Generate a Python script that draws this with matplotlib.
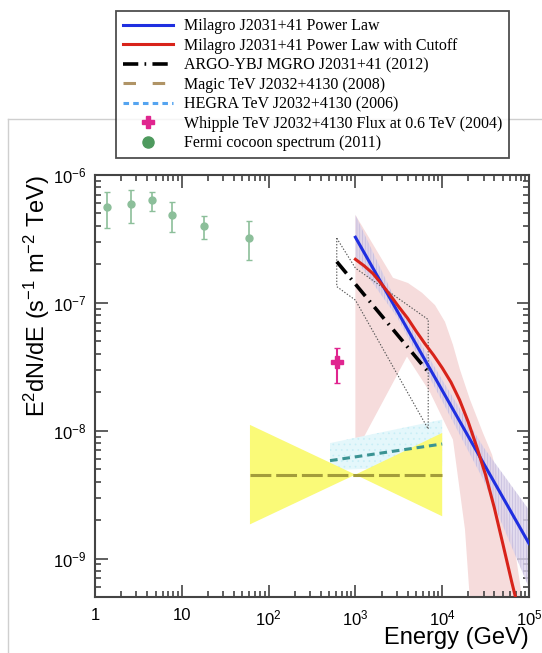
import matplotlib
matplotlib.use('Agg')
import matplotlib.pyplot as plt
from matplotlib.lines import Line2D
from matplotlib.ticker import LogLocator, NullFormatter, FixedLocator, FixedFormatter

plt.rcParams['font.family'] = 'Liberation Sans'
plt.rcParams['mathtext.fontset'] = 'custom'
plt.rcParams['mathtext.rm'] = 'Liberation Sans'
plt.rcParams['mathtext.it'] = 'Liberation Sans:italic'
plt.rcParams['lines.scale_dashes'] = False
plt.rcParams['hatch.linewidth'] = 0.5

# Fermi cocoon spectrum (GeV, E^2 dN/dE)
fermi_E = [1.37, 2.6, 4.5, 7.7, 18, 59]
fermi_f = [5.6e-7, 5.97e-7, 6.4e-7, 4.9e-7, 4.0e-7, 3.24e-7]
fermi_hi = [7.3e-7, 7.7e-7, 7.3e-7, 6.2e-7, 4.8e-7, 4.35e-7]
fermi_lo = [3.84e-7, 4.25e-7, 5.26e-7, 3.57e-7, 3.16e-7, 2.17e-7]

# Whipple flux at 0.6 TeV
whipple_E = [609]
whipple_f = [3.42e-8]
whipple_hi = [4.43e-8]
whipple_lo = [2.38e-8]

# Milagro power law and its band
pl_E = [1e3, 1e5]
pl_f = [3.26e-7, 1.31e-9]
pl_band_E = [1e3, 3e3, 1e4, 3e4, 1e5]
pl_band_up = [4.87e-7, 1.0e-7, 2.5e-8, 7.4e-9, 2.4e-9]
pl_band_lo = [2.2e-7, 7.8e-8, 1.7e-8, 4.1e-9, 5.9e-10]

# Milagro power law with cutoff
cut_E = [1000, 1259, 1585, 1995, 2512, 3162, 3981, 5012, 6310, 7943,
         10000, 12589, 15849, 19953, 25119, 31623, 39811, 50119, 63096, 70795]
cut_f = [2.19e-7, 1.95e-7, 1.70e-7, 1.41e-7, 1.15e-7, 9.3e-8, 7.6e-8, 6.0e-8, 4.8e-8, 3.9e-8,
         3.1e-8, 2.4e-8, 1.74e-8, 1.17e-8, 7.4e-9, 4.5e-9, 2.5e-9, 1.29e-9, 6.6e-10, 4.8e-10]
cut_up_E = [1000, 2710, 4036, 5850, 8260, 10770, 13300, 16030, 20900, 29500, 37500, 53000, 69000, 83000, 92000]
cut_up_f = [4.87e-7, 1.57e-7, 1.43e-7, 1.20e-7, 9.6e-8, 7.1e-8, 4.7e-8, 3.0e-8, 1.75e-8, 9.6e-9,
            6.5e-9, 2.64e-9, 1.17e-9, 5.0e-10, 2.8e-10]
cut_lo_E = [1000, 3930, 7230, 13300, 18300, 22000]
cut_lo_f = [6.7e-9, 3.8e-8, 2.0e-8, 8.5e-9, 1.69e-9, 2.8e-10]

# ARGO-YBJ fit and butterfly
argo_E = [610, 6900]
argo_f = [2.1e-7, 2.88e-8]
argo_box_E = [610, 1000, 6900, 6900, 1000, 610, 610]
argo_box_f = [3.2e-7, 1.87e-7, 7.4e-8, 1.03e-8, 1.05e-7, 1.34e-7, 3.2e-7]

# HEGRA
hegra_E = [510, 1e4]
hegra_f = [5.83e-9, 7.87e-9]
hegra_up = [8.0e-9, 1.22e-8]
hegra_lo = [4.9e-9, 5.3e-9]

# MAGIC
magic_E = [61, 1e4]
magic_f = [4.53e-9, 4.53e-9]
magic_band_E = [61, 1e3, 1e4]
magic_up = [1.11e-8, 4.53e-9, 9.6e-9]
magic_lo = [1.85e-9, 4.53e-9, 2.14e-9]

xtick_vals = [1, 10, 1e2, 1e3, 1e4, 1e5]
xtick_labels = ['1', '10', '10$^{2}$', '10$^{3}$', '10$^{4}$', '10$^{5}$']
ytick_vals = [1e-9, 1e-8, 1e-7, 1e-6]

fig = plt.figure(figsize=(5.42, 6.53), dpi=100)
ax = fig.add_axes([95/542, 1-597/653, 434/542, 422/653])
ax.set_xscale('log')
ax.set_yscale('log')
ax.set_xlim(1, 1e5)
ax.set_ylim(5e-10, 1e-6)

# bands
ax.fill(cut_up_E + cut_lo_E[::-1], cut_up_f + cut_lo_f[::-1],
        facecolor='#f6dcdc', edgecolor='none', zorder=1)
ax.fill_between(pl_band_E, pl_band_lo, pl_band_up, facecolor='#dcd4ea',
                edgecolor='#bbb2da', linewidth=0, hatch='||||||', alpha=0.8, zorder=2)
ax.fill_between(hegra_E, hegra_lo, hegra_up, facecolor='#e4f7fb',
                edgecolor='#c8eef6', linewidth=0, hatch='...', zorder=2)
ax.fill_between(magic_band_E, magic_lo, magic_up, facecolor='#fafa78',
                edgecolor='none', zorder=3)
ax.plot(argo_box_E, argo_box_f, color='#555555', lw=0.8, ls=(0, (1, 1.2)), zorder=4)

# lines
ax.plot(magic_E, magic_f, color='#a39c3a', lw=2.2, ls=(0, (15, 3.5)), zorder=5)
ax.plot(hegra_E, hegra_f, color='#3b9393', lw=2.2, ls=(0, (5.5, 3.5)), zorder=5)
ax.plot(argo_E, argo_f, color='black', lw=2.6, ls=(0, (11, 4.5, 1.2, 4.5)), zorder=5)
ax.plot(pl_E, pl_f, color='#1f2fe0', lw=2.2, zorder=6)
ax.plot(cut_E, cut_f, color='#d8231a', lw=2.2, zorder=6)

# points
fermi_err = [[f - l for f, l in zip(fermi_f, fermi_lo)], [h - f for f, h in zip(fermi_f, fermi_hi)]]
ax.errorbar(fermi_E, fermi_f, yerr=fermi_err, fmt='o', color='#8cbf9a', ms=5,
            elinewidth=1.2, capsize=2, zorder=6)
whip_err = [[f - l for f, l in zip(whipple_f, whipple_lo)], [h - f for f, h in zip(whipple_f, whipple_hi)]]
ax.errorbar(whipple_E, whipple_f, yerr=whip_err, fmt='P', color='#e0258f', ms=9,
            elinewidth=1.5, capsize=2.5, zorder=7)

# axes styling
for s in ax.spines.values():
    s.set_color('#444444')
    s.set_linewidth(1.5)
ax.tick_params(which='both', direction='in', top=True, right=True, color='#444444', width=1.2)
ax.tick_params(which='major', length=9, labelsize=12, pad=8)
ax.tick_params(axis='y', which='major', pad=6)
ax.tick_params(which='minor', length=4.5)
ax.xaxis.set_major_locator(FixedLocator(xtick_vals))
ax.xaxis.set_major_formatter(FixedFormatter(xtick_labels))
ax.xaxis.set_minor_locator(LogLocator(base=10, subs=range(2, 10)))
ax.xaxis.set_minor_formatter(NullFormatter())
ax.set_yticks(ytick_vals)
ax.yaxis.set_minor_locator(LogLocator(base=10, subs=range(2, 10)))
ax.yaxis.set_minor_formatter(NullFormatter())

ax.set_ylabel('E$^{2}$dN/dE (s$^{-1}$ m$^{-2}$ TeV)', fontsize=17, loc='top')
ax.yaxis.set_label_coords(-0.1, 1.0)
ax.set_xlabel('Energy (GeV)', fontsize=17, loc='right')
ax.xaxis.set_label_coords(1.0, -0.072)

# panel frame behind the legend
fig.add_artist(Line2D([8/542, 1], [1-119/653, 1-119/653], color='#cfcfcf', lw=1))
fig.add_artist(Line2D([8/542, 8/542], [0, 1-119/653], color='#cfcfcf', lw=1))

handles = [
    Line2D([], [], color='#1f2fe0', lw=2.2),
    Line2D([], [], color='#d8231a', lw=2.2),
    Line2D([], [], color='black', lw=2.6, ls=(0, (11, 4.5, 1.2, 4.5))),
    Line2D([], [], color='#b09466', lw=2.2, ls=(0, (9, 12))),
    Line2D([], [], color='#55a4f0', lw=2.2, ls=(0, (4, 3))),
    Line2D([], [], color='#e0258f', marker='P', ls='none', ms=9),
    Line2D([], [], color='#4e9a5e', marker='o', ls='none', ms=8),
]
labels = [
    'Milagro J2031+41 Power Law',
    'Milagro J2031+41 Power Law with Cutoff',
    'ARGO-YBJ MGRO J2031+41 (2012)',
    'Magic TeV J2032+4130 (2008)',
    'HEGRA TeV J2032+4130 (2006)',
    'Whipple TeV J2032+4130 Flux at 0.6 TeV (2004)',
    'Fermi cocoon spectrum (2011)',
]
leg = fig.legend(handles, labels, loc='upper left', bbox_to_anchor=(116/542, 1-11/653),
                 borderaxespad=0, frameon=True, fancybox=False, handlelength=3.1,
                 handletextpad=0.7, labelspacing=0.22, borderpad=0.45,
                 prop={'family': 'Liberation Serif', 'size': 11.5})
leg.get_frame().set_edgecolor('#222222')
leg.get_frame().set_linewidth(1.3)
leg.set_zorder(10)

fig.savefig('out.png', dpi=100)
